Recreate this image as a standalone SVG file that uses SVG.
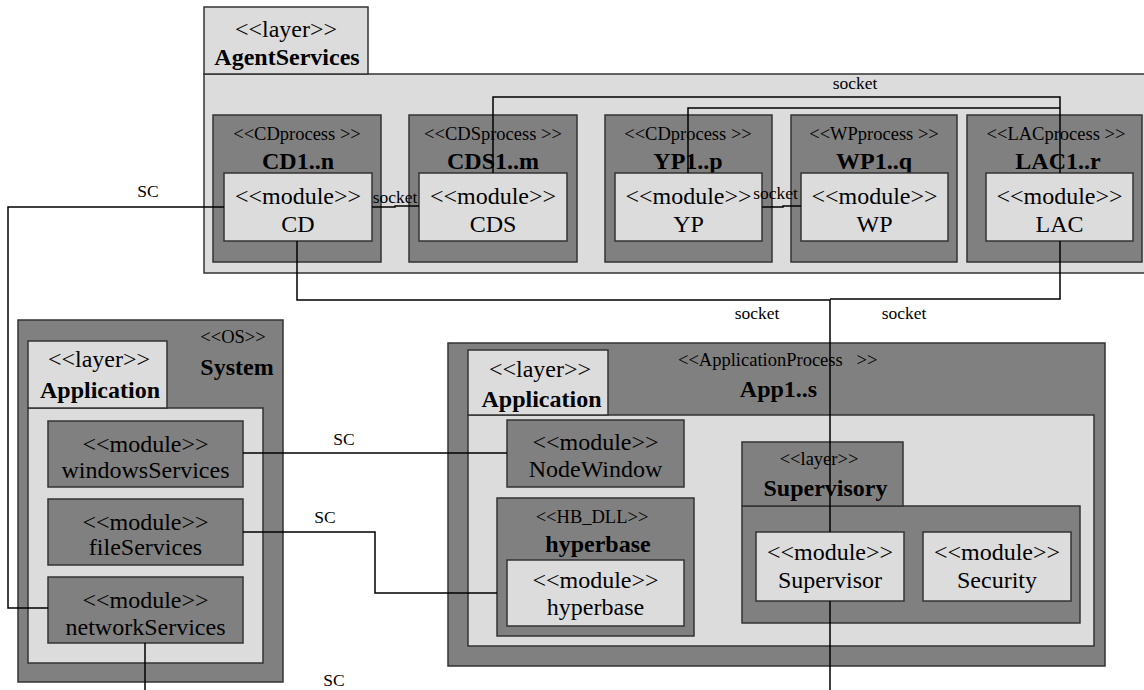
<svg xmlns="http://www.w3.org/2000/svg" width="1144" height="690" viewBox="0 0 1144 690" font-family="'Liberation Serif','Times New Roman','DejaVu Serif',serif">
<style>
.lt{fill:#dcdcdc;stroke:#333;stroke-width:1.5}
.dk{fill:#808080;stroke:#333;stroke-width:1.5}
text{font-family:'Liberation Serif','Times New Roman','DejaVu Serif',serif;fill:#000;text-anchor:middle}
.m{font-size:24px}
.b{font-size:24px;font-weight:bold}
.s{font-size:18.5px}
.l{font-size:17.5px}
.conn{fill:none;stroke:#000;stroke-width:1.5}
</style>
<rect width="1144" height="690" fill="#fff"/>

<g id="agentServices">
<rect class="lt" x="204" y="74" width="950" height="199"/>
<rect class="lt" x="204" y="7" width="164" height="67"/>
<text class="m" x="286" y="37">&lt;&lt;layer&gt;&gt;</text>
<text class="b" x="287" y="65">AgentServices</text>
</g>

<g id="cdProcess">
<rect class="dk" x="213" y="115" width="168" height="147"/>
<text class="s" x="297" y="140">&lt;&lt;CDprocess &gt;&gt;</text>
<text class="b" x="298" y="169">CD1..n</text>
</g>
<g id="cdModule">
<rect class="lt" x="224" y="173" width="148" height="68"/>
<text class="m" x="298" y="204">&lt;&lt;module&gt;&gt;</text>
<text class="m" x="298" y="232">CD</text>
</g>

<g id="cdsProcess">
<rect class="dk" x="409" y="115" width="168" height="147"/>
<text class="s" x="493" y="140">&lt;&lt;CDSprocess &gt;&gt;</text>
<text class="b" x="493" y="169">CDS1..m</text>
</g>
<g id="cdsModule">
<rect class="lt" x="419" y="173" width="148" height="68"/>
<text class="m" x="493" y="204">&lt;&lt;module&gt;&gt;</text>
<text class="m" x="493" y="232">CDS</text>
</g>

<g id="ypProcess">
<rect class="dk" x="605" y="115" width="167" height="147"/>
<text class="s" x="688" y="140">&lt;&lt;CDprocess &gt;&gt;</text>
<text class="b" x="688" y="169">YP1..p</text>
</g>
<g id="ypModule">
<rect class="lt" x="615" y="173" width="147" height="68"/>
<text class="m" x="688.5" y="204">&lt;&lt;module&gt;&gt;</text>
<text class="m" x="688.5" y="232">YP</text>
</g>

<g id="wpProcess">
<rect class="dk" x="791" y="115" width="166" height="147"/>
<text class="s" x="874" y="140">&lt;&lt;WPprocess &gt;&gt;</text>
<text class="b" x="874" y="169">WP1..q</text>
</g>
<g id="wpModule">
<rect class="lt" x="801" y="173" width="147" height="68"/>
<text class="m" x="874.5" y="204">&lt;&lt;module&gt;&gt;</text>
<text class="m" x="874.5" y="232">WP</text>
</g>

<g id="lacProcess">
<rect class="dk" x="967" y="115" width="175" height="147"/>
<text class="s" x="1056" y="140">&lt;&lt;LACprocess &gt;&gt;</text>
<text class="b" x="1058" y="169">LAC1..r</text>
</g>
<g id="lacModule">
<rect class="lt" x="986" y="173" width="147" height="68"/>
<text class="m" x="1059.5" y="204">&lt;&lt;module&gt;&gt;</text>
<text class="m" x="1059.5" y="232">LAC</text>
</g>

<g id="system">
<rect class="dk" x="18" y="320" width="265" height="362"/>
<text class="s" x="233" y="343">&lt;&lt;OS&gt;&gt;</text>
<text class="b" x="237" y="375">System</text>
</g>
<g id="sysApplication">
<rect class="lt" x="28" y="408" width="235" height="255"/>
<rect class="lt" x="28" y="341" width="139" height="67"/>
<text class="m" x="99" y="367">&lt;&lt;layer&gt;&gt;</text>
<text class="b" x="100" y="398">Application</text>
</g>
<g id="windowsServices">
<rect class="dk" x="48" y="421" width="195" height="66"/>
<text class="m" x="145.5" y="452">&lt;&lt;module&gt;&gt;</text>
<text class="m" x="145.5" y="478">windowsServices</text>
</g>
<g id="fileServices">
<rect class="dk" x="48" y="499" width="195" height="66"/>
<text class="m" x="145.5" y="530">&lt;&lt;module&gt;&gt;</text>
<text class="m" x="145.5" y="555">fileServices</text>
</g>
<g id="networkServices">
<rect class="dk" x="48" y="577" width="195" height="66"/>
<text class="m" x="145.5" y="608">&lt;&lt;module&gt;&gt;</text>
<text class="m" x="145.5" y="635">networkServices</text>
</g>

<g id="appProcess">
<rect class="dk" x="448" y="343" width="657" height="323"/>
<text class="s" x="678" y="366" style="text-anchor:start" xml:space="preserve">&lt;&lt;ApplicationProcess   &gt;&gt;</text>
<text class="b" x="778.5" y="397">App1..s</text>
</g>
<g id="appApplication">
<rect class="lt" x="468" y="415" width="626" height="231"/>
<rect class="lt" x="468" y="350" width="140" height="65"/>
<text class="m" x="540" y="377">&lt;&lt;layer&gt;&gt;</text>
<text class="b" x="541.5" y="407">Application</text>
</g>
<g id="nodeWindow">
<rect class="dk" x="507" y="420" width="177" height="67"/>
<text class="m" x="595.5" y="450">&lt;&lt;module&gt;&gt;</text>
<text class="m" x="595.5" y="477">NodeWindow</text>
</g>
<g id="hbDll">
<rect class="dk" x="497" y="498" width="197" height="138"/>
<text class="s" x="592" y="523">&lt;&lt;HB_DLL&gt;&gt;</text>
<text class="b" x="598" y="552">hyperbase</text>
</g>
<g id="hyperbaseModule">
<rect class="lt" x="507" y="560" width="177" height="66"/>
<text class="m" x="595.5" y="588">&lt;&lt;module&gt;&gt;</text>
<text class="m" x="595.5" y="615">hyperbase</text>
</g>
<g id="supervisory">
<rect class="dk" x="742" y="506" width="338" height="117"/>
<rect class="dk" x="742" y="442" width="161" height="64"/>
<text class="s" x="819" y="465">&lt;&lt;layer&gt;&gt;</text>
<text class="b" x="825.5" y="496">Supervisory</text>
</g>
<g id="supervisor">
<rect class="lt" x="756" y="532" width="148" height="69"/>
<text class="m" x="830" y="560">&lt;&lt;module&gt;&gt;</text>
<text class="m" x="830" y="588">Supervisor</text>
</g>
<g id="security">
<rect class="lt" x="923" y="532" width="148" height="69"/>
<text class="m" x="997" y="560">&lt;&lt;module&gt;&gt;</text>
<text class="m" x="997" y="588">Security</text>
</g>

<g id="connectors">
<path class="conn" d="M493 173V97H1060V173"/>
<path class="conn" d="M688 173V108H1060"/>
<text class="l" x="855" y="89">socket</text>
<path class="conn" d="M372 207H395V206H419"/>
<text class="l" x="395" y="203">socket</text>
<path class="conn" d="M762 207H783V206H801"/>
<text class="l" x="775.5" y="199">socket</text>
<path class="conn" d="M224 207H8V608H48"/>
<text class="l" x="148" y="197">SC</text>
<path class="conn" d="M297 241V300H830V532"/>
<path class="conn" d="M1060 241V299H830"/>
<path class="conn" d="M830 601V690"/>
<text class="l" x="757" y="319">socket</text>
<text class="l" x="904" y="319">socket</text>
<path class="conn" d="M243 453H507"/>
<text class="l" x="344" y="445">SC</text>
<path class="conn" d="M243 532H375V593H497"/>
<text class="l" x="325" y="523">SC</text>
<path class="conn" d="M145 643V690"/>
<text class="l" x="334" y="686">SC</text>
</g>
</svg>
